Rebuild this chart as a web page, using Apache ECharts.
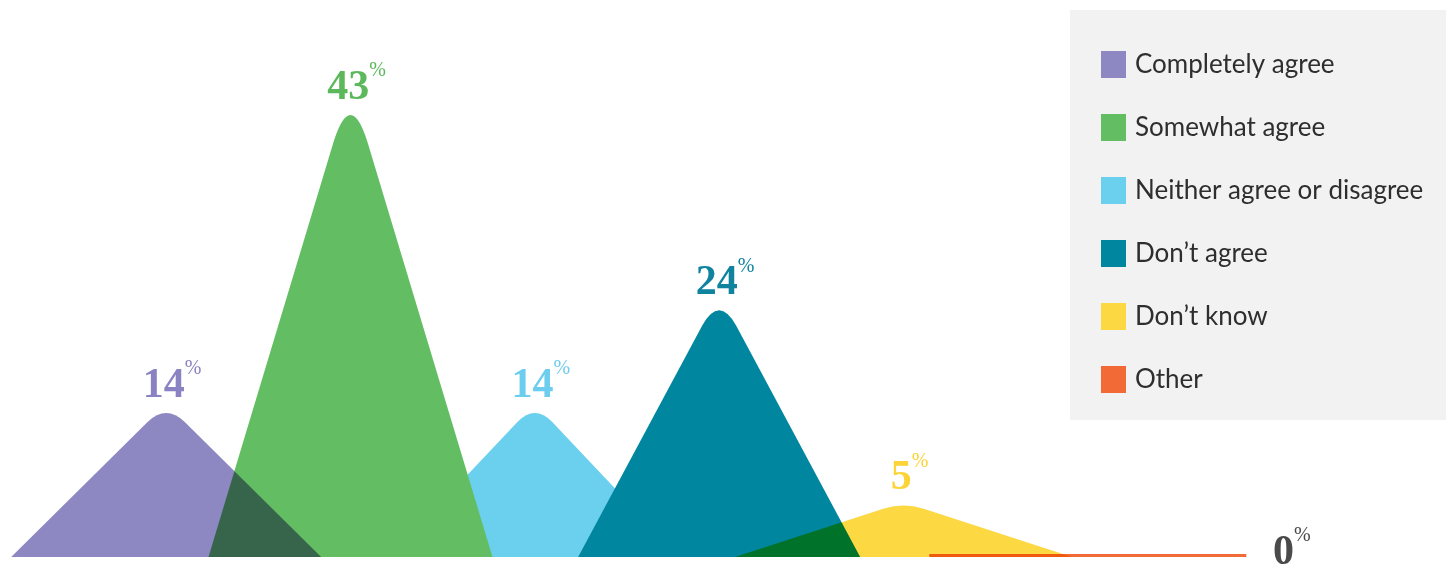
<!DOCTYPE html>
<html>
<head>
<meta charset="utf-8">
<title>Survey answers</title>
<script src="https://cdn.jsdelivr.net/npm/echarts@6/dist/echarts.min.js"></script>
<style>
  html, body { margin: 0; padding: 0; background: #ffffff; }
  #chart { width: 1446px; height: 567px; }
</style>
</head>
<body>
<div id="chart"></div>
<script>
var categories = [
  'Completely agree',
  'Somewhat agree',
  'Neither agree or disagree',
  'Don\u2019t agree',
  'Don\u2019t know',
  'Other'
];
var percentValues = [14, 43, 14, 24, 5, 0];
var peakColors = ['#8e88c2', '#63be63', '#6bcfee', '#00869f', '#fcd843', '#f26a35'];
var labelColors = ['#8a82c2', '#5cb85c', '#6ccdee', '#10839f', '#fcd437', '#4a4a4a'];

(function () {
  // triangle with a rounded tip
  var peakPath = 'path://M0,100 L44,9 Q50,-3 56,9 L100,100 Z';
  var peakWidths = [310, 284, 290, 282, 337, 317];
  // purple and yellow sit on top and darken what they cover
  var peakZ = [3, 2, 1, 2, 3, 2];
  var peakBlend = ['multiply', null, null, null, 'multiply', null];

  function buildSeries(name, i) {
    var isFlat = percentValues[i] === 0;
    return {
      type: 'pictorialBar',
      name: name,
      barGap: '-100%',
      barCategoryGap: '0%',
      blendMode: peakBlend[i] || 'source-over',
      symbol: isFlat ? 'rect' : peakPath,
      symbolSize: isFlat ? [peakWidths[i], 3] : [peakWidths[i], '100%'],
      itemStyle: { color: peakColors[i] },
      z: peakZ[i],
      data: percentValues.map(function (v, j) {
        return j === i ? v : '-';
      }),
      label: {
        show: true,
        position: 'top',
        distance: 0,
        offset: isFlat ? [204, 26] : [6, 0],
        formatter: '{n|{c}}{p|%}',
        rich: {
          n: {
            fontFamily: '"Liberation Serif", serif',
            fontWeight: 'bold',
            fontSize: 42,
            color: labelColors[i],
            lineHeight: 54
          },
          p: {
            fontFamily: '"Liberation Serif", serif',
            fontSize: 20,
            color: labelColors[i],
            verticalAlign: 'top',
            lineHeight: 20
          }
        }
      },
      emphasis: { disabled: true }
    };
  }

  var chart = echarts.init(document.getElementById('chart'), null, { renderer: 'canvas' });
  chart.setOption({
    backgroundColor: '#ffffff',
    animation: false,
    tooltip: { show: false },
    legend: {
      data: categories,
      orient: 'vertical',
      left: 1070,
      top: 10,
      padding: [41, 28, 27, 31],
      backgroundColor: '#f2f2f2',
      icon: 'rect',
      itemWidth: 25,
      itemHeight: 27,
      itemGap: 36,
      selectedMode: false,
      textStyle: {
        fontFamily: 'Lato, "Noto Sans", sans-serif',
        fontSize: 26,
        color: '#2e2e2e',
        padding: [0, 0, 0, 4]
      }
    },
    grid: { left: 74, right: 266, top: 43, bottom: 10 },
    xAxis: {
      type: 'category',
      data: categories,
      axisLine: { show: false },
      axisTick: { show: false },
      axisLabel: { show: false }
    },
    yAxis: {
      type: 'value',
      min: 0,
      max: 50,
      show: false,
      splitLine: { show: false }
    },
    series: categories.map(buildSeries)
  });
})();
</script>
</body>
</html>
